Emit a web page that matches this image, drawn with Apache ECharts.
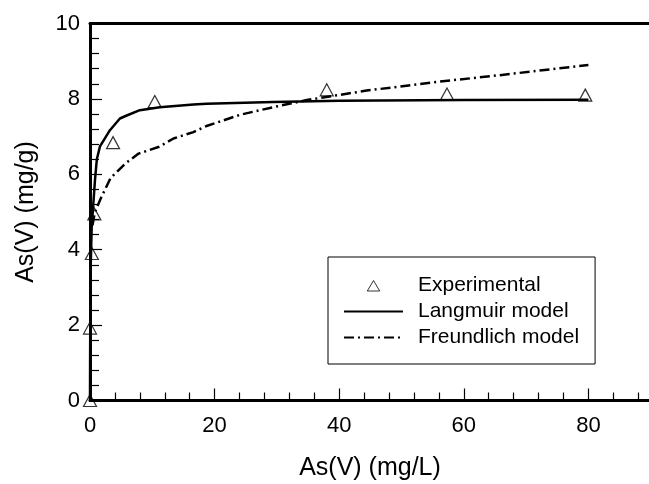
<!DOCTYPE html>
<html>
<head>
<meta charset="utf-8">
<script src="https://cdn.jsdelivr.net/npm/echarts@6/dist/echarts.min.js"></script>
<style>
  html, body {margin: 0; padding: 0; background: #fff;}
  #chart {width: 649px; height: 484px;}
</style>
</head>
<body>
<div id="chart"></div>
<script>
// experimental points
const expX = [0, 0, 0.3, 0.7, 3.7, 10.4, 38.0, 57.3, 79.5]
const expY = [0, 1.92, 3.9, 4.95, 6.84, 7.93, 8.24, 8.13, 8.1]

// Langmuir model curve
const langX = [0, 0.02, 0.06, 0.12, 0.27, 0.53, 0.8, 1.1, 1.6, 3.2, 4.8, 5.9, 8, 11.2, 16.6, 18.7, 29.4, 40, 60, 80]
const langY = [0, 1.2, 2.6, 3.6, 4.6, 5.2, 5.85, 6.4, 6.74, 7.17, 7.48, 7.56, 7.7, 7.78, 7.85, 7.87, 7.92, 7.95, 7.97, 7.98]

// Freundlich model curve
const frX = [0.4, 0.8, 1.7, 3.3, 5.7, 7.8, 11.1, 13.4, 16.6, 18.7, 24.1, 29.4, 34.8, 44.4, 55.1, 65.8, 80]
const frY = [4.65, 5.0, 5.35, 5.9, 6.29, 6.55, 6.73, 6.95, 7.12, 7.28, 7.58, 7.78, 7.97, 8.22, 8.44, 8.63, 8.9]

const names = ['Experimental', 'Langmuir model', 'Freundlich model']

const zip = (xs, ys) => xs.map((x, i) => [x, ys[i]])

const font = 'Liberation Sans, Arial, sans-serif'
const black = '#000'
const clear = 'rgba(0,0,0,0)'

// small triangle in the middle of a 59x14 legend icon (corner moves keep its size)
const legendTriangle = 'path://M0 0M59 14M23.3 12.5L29.5 2L35.7 12.5Z'

const chart = echarts.init(document.getElementById('chart'))

chart.setOption({
  backgroundColor: '#fff',
  animation: false,
  // x runs to 100 but only 0..90 fits in the window, like the original frame
  grid: {left: 90, top: 23.5, width: 623, height: 377, show: false, outerBoundsMode: 'none', containLabel: false},
  legend: {
    data: [
      {name: names[0], icon: legendTriangle, itemStyle: {color: clear, borderColor: black, borderWidth: 1}},
      {name: names[1], itemStyle: {color: clear, borderColor: clear, borderWidth: 0}},
      {name: names[2], itemStyle: {color: clear, borderColor: clear, borderWidth: 0}},
    ],
    orient: 'vertical',
    left: 328,
    top: 257,
    padding: [18, 16, 16, 15],
    itemWidth: 59,
    itemHeight: 14,
    itemGap: 5,
    borderColor: black,
    borderWidth: 1,
    selectedMode: false,
    textStyle: {fontFamily: font, fontSize: 21, color: black, lineHeight: 20, padding: [0, 0, 0, 10]},
  },
  xAxis: [{
    type: 'value',
    min: 0,
    max: 100,
    interval: 20,
    name: 'As(V) (mg/L)',
    nameLocation: 'middle',
    nameGap: 55,
    // pad right so the title sits centred on the visible 0..90 span
    nameTextStyle: {fontFamily: font, fontSize: 25, color: black, padding: [0, 63, 0, 0]},
    axisLine: {lineStyle: {color: black, width: 3}},
    axisTick: {inside: true, length: 12, lineStyle: {color: black, width: 1.2}},
    minorTick: {show: true, splitNumber: 5, length: 8, lineStyle: {color: black, width: 1.2}},
    axisLabel: {fontFamily: font, fontSize: 22, color: black, margin: 14},
    splitLine: {show: false},
  }, {
    type: 'value',
    position: 'top',
    min: 0,
    max: 100,
    axisLine: {lineStyle: {color: black, width: 3}},
    axisTick: {show: false},
    axisLabel: {show: false},
    splitLine: {show: false},
  }],
  yAxis: {
    type: 'value',
    min: 0,
    max: 10,
    interval: 2,
    name: 'As(V) (mg/g)',
    nameLocation: 'middle',
    nameGap: 51,
    nameTextStyle: {fontFamily: font, fontSize: 25, color: black},
    axisLine: {lineStyle: {color: black, width: 3}},
    axisTick: {inside: true, length: 12, lineStyle: {color: black, width: 1.2}},
    minorTick: {show: true, splitNumber: 5, length: 9, lineStyle: {color: black, width: 1.2}},
    axisLabel: {fontFamily: font, fontSize: 22, color: black, margin: 10},
    splitLine: {show: false},
  },
  series: [{
    name: names[0],
    type: 'scatter',
    data: zip(expX, expY),
    symbol: 'triangle',
    symbolSize: [13, 12],
    itemStyle: {color: clear, borderColor: black, borderWidth: 1.2},
    z: 5,
  }, {
    name: names[1],
    type: 'line',
    data: zip(langX, langY),
    symbol: 'none',
    lineStyle: {color: black, width: 2.5},
    z: 3,
  }, {
    name: names[2],
    type: 'line',
    data: zip(frX, frY),
    symbol: 'none',
    lineStyle: {color: black, width: 2.5, type: [10, 4, 2, 4]},
    z: 3,
  }],
})
</script>
</body>
</html>
